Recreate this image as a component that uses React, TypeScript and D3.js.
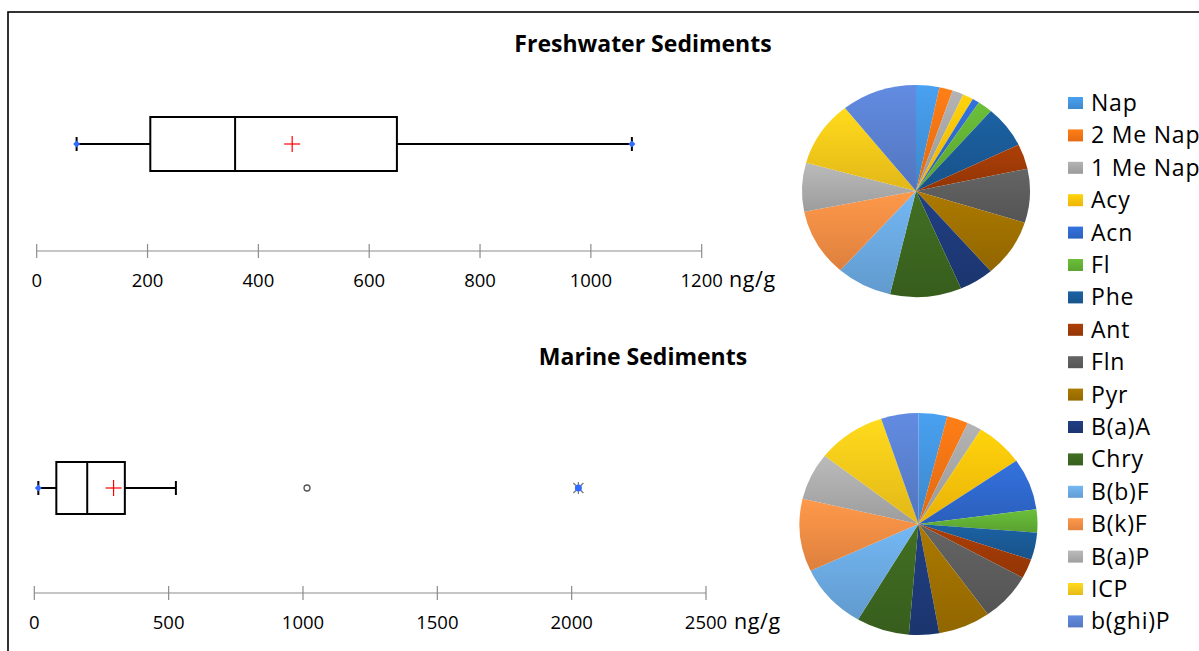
import React from "react";
import * as d3 from "d3";

const compounds = ["Nap", "2 Me Nap", "1 Me Nap", "Acy", "Acn", "Fl", "Phe", "Ant", "Fln", "Pyr", "B(a)A", "Chry", "B(b)F", "B(k)F", "B(a)P", "ICP", "b(ghi)P"];
const colors = ["#4393DC", "#F57314", "#A5A5A5", "#FFC20A", "#2F68CC", "#62B035", "#1A5A96", "#9E3A06", "#5C5C5C", "#9E7000", "#1E3A78", "#3C6620", "#6AA8E0", "#F28C44", "#ABABAB", "#F7C81A", "#5A80CF"];
const freshwaterShares = [3.3, 1.9, 1.6, 1.5, 1.0, 2.1, 6.4, 3.8, 8.2, 8.8, 4.9, 10.1, 7.9, 10.3, 7.4, 10.0, 10.7];
const marineShares = [3.9, 2.9, 2.0, 6.6, 7.5, 3.4, 4.0, 2.8, 7.1, 7.1, 4.1, 7.2, 9.6, 10.6, 6.9, 9.4, 5.1];

// box stats: min, q1, median, q3, max(whisker), mean
const freshwaterBox = { min: 72, q1: 205, median: 358, q3: 650, max: 1074, mean: 461 };
const marineBox = { min: 15, q1: 82, median: 197, q3: 337, max: 527, mean: 295 };
const marineOutliers = [1015];
const marineExtremes = [2025];

const freshwaterTicks = [0, 200, 400, 600, 800, 1000, 1200];
const marineTicks = [0, 500, 1000, 1500, 2000, 2500];

const FONT = "'Open Sans', Lato, sans-serif";

function Pie({ values, cx, cy, rx, ry, idp }: any) {
  const arcs = d3.pie<number>().sort(null).value((d) => d)(values);
  const arc = d3.arc<any>().innerRadius(0).outerRadius(1);
  return (
    <g transform={`translate(${cx},${cy}) scale(${rx},${ry})`}>
      {arcs.map((a, i) => (
        <path key={i} d={arc(a) || ""} fill={`url(#${idp}-g${i})`} />
      ))}
    </g>
  );
}

function BoxPlot({ stats, scale, cy, h, outliers, extremes, lowMarker, highMarker }: any) {
  const yT = cy - h / 2;
  const cap = 7;
  return (
    <g>
      <line x1={scale(stats.min)} x2={scale(stats.q1)} y1={cy} y2={cy} stroke="#000" strokeWidth={2} />
      <line x1={scale(stats.q3)} x2={scale(stats.max)} y1={cy} y2={cy} stroke="#000" strokeWidth={2} />
      <line x1={scale(stats.min)} x2={scale(stats.min)} y1={cy - cap} y2={cy + cap} stroke="#000" strokeWidth={2} />
      <line x1={scale(stats.max)} x2={scale(stats.max)} y1={cy - cap} y2={cy + cap} stroke="#000" strokeWidth={2} />
      <rect x={scale(stats.q1)} y={yT} width={scale(stats.q3) - scale(stats.q1)} height={h} fill="none" stroke="#000" strokeWidth={2} />
      <line x1={scale(stats.median)} x2={scale(stats.median)} y1={yT} y2={yT + h} stroke="#000" strokeWidth={2} />
      <line x1={scale(stats.mean) - 8} x2={scale(stats.mean) + 8} y1={cy} y2={cy} stroke="#FF0000" strokeWidth={1.2} />
      <line x1={scale(stats.mean)} x2={scale(stats.mean)} y1={cy - 8} y2={cy + 8} stroke="#FF0000" strokeWidth={1.2} />
      {lowMarker && <path d={`M${scale(stats.min) - 3.5},${cy} L${scale(stats.min)},${cy - 3.5} L${scale(stats.min) + 3.5},${cy} L${scale(stats.min)},${cy + 3.5}Z`} fill="#2F6BFF" />}
      {highMarker && <path d={`M${scale(stats.max) - 3.5},${cy} L${scale(stats.max)},${cy - 3.5} L${scale(stats.max) + 3.5},${cy} L${scale(stats.max)},${cy + 3.5}Z`} fill="#2F6BFF" />}
      {(outliers || []).map((v: number, i: number) => (
        <circle key={i} cx={scale(v)} cy={cy} r={3} fill="#fff" stroke="#555" strokeWidth={1.3} />
      ))}
      {(extremes || []).map((v: number, i: number) => {
        const x = scale(v);
        return (
          <g key={i}>
            <line x1={x - 5} x2={x + 5} y1={cy - 5} y2={cy + 5} stroke="#777" strokeWidth={1.2} />
            <line x1={x - 5} x2={x + 5} y1={cy + 5} y2={cy - 5} stroke="#777" strokeWidth={1.2} />
            <line x1={x} x2={x} y1={cy - 6} y2={cy + 6} stroke="#777" strokeWidth={1.2} />
            <circle cx={x} cy={cy} r={3.5} fill="#2F6BFF" />
          </g>
        );
      })}
    </g>
  );
}

function Axis({ scale, ticks, y, labelY, unitX }: any) {
  const [r0, r1] = scale.range();
  return (
    <g>
      <line x1={r0} x2={r1} y1={y} y2={y} stroke="#8C8C8C" strokeWidth={1.2} />
      {ticks.map((t: number) => (
        <g key={t}>
          <line x1={scale(t)} x2={scale(t)} y1={y - 7} y2={y + 7} stroke="#8C8C8C" strokeWidth={1.2} />
          <text x={scale(t)} y={labelY} textAnchor="middle" fontSize={18.5} fill="#000" fontFamily={FONT}>{t}</text>
        </g>
      ))}
      <text x={unitX} y={labelY} textAnchor="start" fontSize={21.5} letterSpacing={0.6} fill="#000" fontFamily={FONT}>ng/g</text>
    </g>
  );
}

export default function App() {
  const xTop = d3.scaleLinear().domain([0, 1200]).range([36.7, 701.7]);
  const xBot = d3.scaleLinear().domain([0, 2500]).range([34.3, 706]);
  return (
    <svg width={1199} height={651} style={{ position: "absolute", left: 0, top: 0, background: "#fff" }}>
      <defs>
        {["a", "b"].map((p) =>
          colors.map((c, i) => (
            <linearGradient key={p + i} id={`${p}-g${i}`} x1="0" y1="0" x2="0" y2="1">
              <stop offset="0%" stopColor={d3.color(c)!.brighter(0.25).formatHex()} />
              <stop offset="100%" stopColor={d3.color(c)!.darker(0.25).formatHex()} />
            </linearGradient>
          ))
        )}
        {colors.map((c, i) => (
          <linearGradient key={"l" + i} id={`l-g${i}`} x1="0" y1="0" x2="0" y2="1">
            <stop offset="0%" stopColor={d3.color(c)!.brighter(0.25).formatHex()} />
            <stop offset="100%" stopColor={d3.color(c)!.darker(0.2).formatHex()} />
          </linearGradient>
        ))}
      </defs>
      <rect x={8} y={12} width={1250} height={700} fill="#fff" stroke="#000" strokeWidth={1.6} />

      <text x={643} y={52} textAnchor="middle" fontSize={23} fontWeight="bold" fontFamily={FONT}>Freshwater Sediments</text>
      <text x={643} y={365} textAnchor="middle" fontSize={23} fontWeight="bold" fontFamily={FONT}>Marine Sediments</text>

      <BoxPlot stats={freshwaterBox} scale={xTop} cy={144} h={54} lowMarker highMarker />
      <Axis scale={xTop} ticks={freshwaterTicks} y={251} labelY={287} unitX={729} />

      <BoxPlot stats={marineBox} scale={xBot} cy={488} h={52} lowMarker outliers={marineOutliers} extremes={marineExtremes} />
      <Axis scale={xBot} ticks={marineTicks} y={593} labelY={629} unitX={734} />

      <Pie values={freshwaterShares} cx={916} cy={191} rx={114} ry={106} idp="a" />
      <Pie values={marineShares} cx={918.5} cy={524} rx={119} ry={111} idp="b" />

      {compounds.map((name, i) => {
        const y = 103 + i * 32.4;
        return (
          <g key={name}>
            <rect x={1068} y={y - 6} width={15} height={12} fill={`url(#l-g${i})`} />
            <text x={1091} y={y + 8} fontSize={23} letterSpacing={0.8} fontFamily={FONT} fill="#000">{name}</text>
          </g>
        );
      })}
    </svg>
  );
}
